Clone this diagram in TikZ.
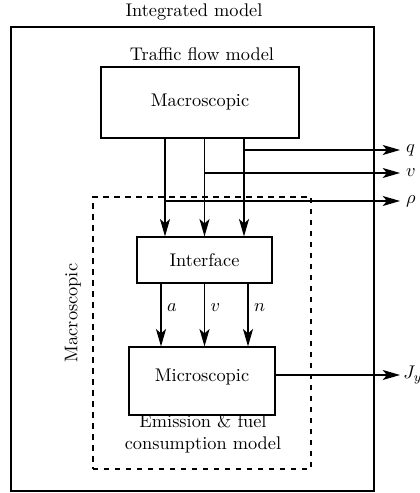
\documentclass[tikz,border=0pt]{standalone}
\usetikzlibrary{arrows.meta,calc}
\begin{document}
\begin{tikzpicture}[x=0.546pt,y=-0.546pt,
  line width=0.65pt,
  box/.style={draw,inner sep=0pt,align=center},
  arr/.style={-{Stealth[length=9.5pt,width=5.5pt,inset=2.4pt]}},
  lbl/.style={inner sep=3pt,font=\normalsize}]
\useasboundingbox (0,0) rectangle (419,493);
% boxes
\node[box,minimum width=363*0.546pt,minimum height=464*0.546pt] (outer) at (192.5,259) {};
\node[box,dashed,minimum width=218*0.546pt,minimum height=272*0.546pt] (dash) at (202,333) {};
\node[box,minimum width=198*0.546pt,minimum height=71*0.546pt] (macro) at (200,102.5) {Macroscopic};
\node[box,minimum width=135*0.546pt,minimum height=46*0.546pt] (iface) at (204.5,260) {Interface};
\node[box,minimum width=146*0.546pt,minimum height=68*0.546pt] (micro) at (202,381) {};
\node (microtxt) at (202,377) {Microscopic};
% titles
\node (tint) at (194,12) {Integrated model};
\node (ttraf) at (202,54) {Traffic flow model};
\node[align=center] (temis) at (203,434) {Emission \& fuel\\consumption model};
\node[rotate=90] (tmac) at (73,313) {Macroscopic};
% upper arrows
\coordinate (i1) at ($(iface.north)+(-39.5,0)$);
\coordinate (i2) at (iface.north);
\coordinate (i3) at ($(iface.north)+(39.5,0)$);
\draw[arr] (i1 |- macro.south) -- (i1);
\draw[arr] (i2 |- macro.south) -- (i2);
\draw[arr] (i3 |- macro.south) -- (i3);
% outputs
\coordinate (qout) at (400,150);
\coordinate (vout) at (400,173);
\coordinate (rout) at (400,201);
\coordinate (jout) at (400,375);
\draw[arr] (i3 |- qout) -- (qout) node[right,lbl] (lq) {$q$};
\draw[arr] (i2 |- vout) -- (vout) node[right,lbl] (lv) {$v$};
\draw[arr] (i1 |- rout) -- (rout) node[right,lbl] (lr) {$\rho$};
\draw[arr] (micro.east |- jout) -- (jout) node[right,lbl,inner sep=1.5pt] (lj) {$J_y$};
% lower arrows
\coordinate (s1) at ($(iface.south)+(-43.5,0)$);
\coordinate (s2) at (iface.south);
\coordinate (s3) at ($(iface.south)+(43.5,0)$);
\draw[arr] (s1) -- (s1 |- micro.north) node[pos=0.38,right,lbl] (la) {$a$};
\draw[arr] (s2) -- (s2 |- micro.north) node[pos=0.38,right,lbl] (lv2) {$v$};
\draw[arr] (s3) -- (s3 |- micro.north) node[pos=0.38,right,lbl] (ln) {$n$};
\end{tikzpicture}
\end{document}
